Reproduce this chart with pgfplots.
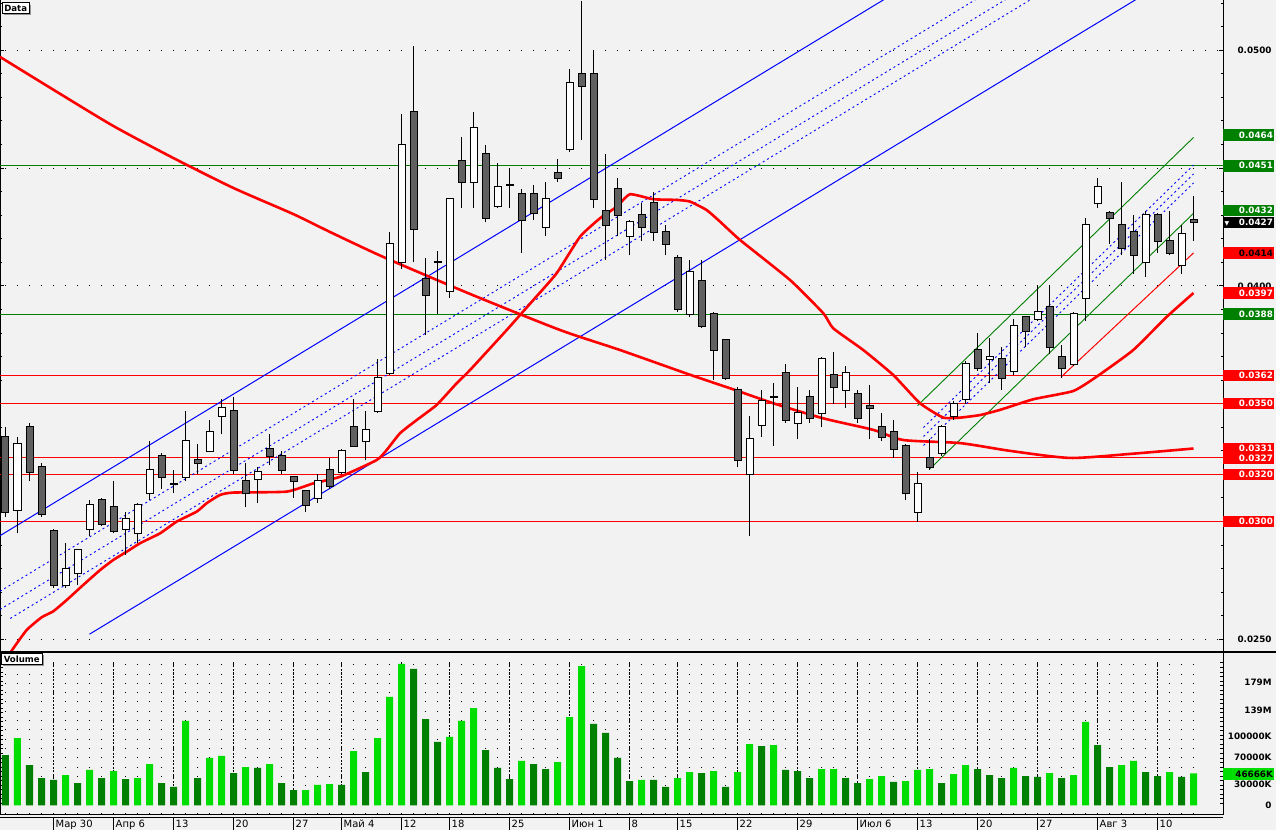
\documentclass[border=0pt]{standalone}
\usepackage{pgfplots}
\pgfplotsset{compat=1.18}
\usepackage{pgfplotstable}
\usepackage{fontspec}
\setmainfont{DejaVu Sans}

\definecolor{bg}{RGB}{242,242,242}
\definecolor{cdark}{RGB}{96,96,96}
\definecolor{dgreen}{RGB}{0,128,0}
\definecolor{lgreen}{RGB}{0,221,0}
\definecolor{shadow}{RGB}{150,150,150}

\newcommand\lblfont{\fontsize{8.8}{9}\selectfont\bfseries}
\tikzset{
  box/.style={anchor=west, inner xsep=1.5pt, inner ysep=0pt, minimum height=11.5pt,
    text width=48.2pt, align=right, font=\lblfont},
  plain/.style={anchor=east, inner sep=0pt, font=\lblfont},
}

% daily bars: index, open, high, low, close, volume (M), volume colour flag
\pgfplotstableread{
x o h l c v g
0 0.0336 0.0340 0.0302 0.0304 73.3 0
1 0.0305 0.0336 0.0295 0.0333 98.0 1
2 0.0340 0.0342 0.0317 0.0321 58.7 0
3 0.0323 0.0325 0.0302 0.0303 39.8 0
4 0.0296 0.0297 0.0272 0.0273 36.9 0
5 0.0273 0.0291 0.0272 0.0280 44.0 1
6 0.0278 0.0288 0.0273 0.0288 32.5 0
7 0.0297 0.0309 0.0294 0.0307 51.5 1
8 0.0309 0.0310 0.0298 0.0299 39.8 0
9 0.0306 0.0317 0.0295 0.0296 50.0 1
10 0.0297 0.0304 0.0286 0.0301 38.3 0
11 0.0295 0.0308 0.0291 0.0307 39.8 1
12 0.0312 0.0334 0.0309 0.0322 60.0 1
13 0.0328 0.0329 0.0314 0.0319 32.5 0
14 0.0316 0.0322 0.0312 0.0316 26.7 0
15 0.0319 0.0347 0.0317 0.0334 123.0 1
16 0.0326 0.0333 0.0320 0.0325 39.8 0
17 0.0330 0.0343 0.0330 0.0338 69.0 1
18 0.0345 0.0352 0.0337 0.0348 71.9 1
19 0.0347 0.0353 0.0320 0.0322 47.0 0
20 0.0317 0.0325 0.0306 0.0312 55.8 1
21 0.0318 0.0323 0.0308 0.0321 54.4 0
22 0.0331 0.0337 0.0324 0.0328 60.0 1
23 0.0328 0.0330 0.0320 0.0322 32.5 0
24 0.0319 0.0319 0.0310 0.0317 22.3 0
25 0.0313 0.0313 0.0304 0.0307 22.3 1
26 0.0310 0.0320 0.0308 0.0317 29.6 1
27 0.0322 0.0327 0.0314 0.0315 31.0 1
28 0.0321 0.0331 0.0320 0.0330 29.6 0
29 0.0340 0.0352 0.0332 0.0332 79.0 1
30 0.0334 0.0347 0.0326 0.0339 48.5 0
31 0.0347 0.0369 0.0346 0.0361 98.0 1
32 0.0363 0.0423 0.0362 0.0418 158.0 1
33 0.0410 0.0473 0.0407 0.0460 206.0 1
34 0.0474 0.0502 0.0410 0.0424 198.7 0
35 0.0403 0.0412 0.0379 0.0396 125.8 0
36 0.0410 0.0415 0.0388 0.0410 92.3 0
37 0.0398 0.0437 0.0395 0.0437 99.6 1
38 0.0453 0.0463 0.0433 0.0444 123.0 1
39 0.0444 0.0474 0.0433 0.0467 141.8 1
40 0.0456 0.0460 0.0427 0.0429 80.6 0
41 0.0434 0.0452 0.0433 0.0442 54.4 0
42 0.0443 0.0450 0.0433 0.0443 38.3 0
43 0.0439 0.0441 0.0414 0.0428 64.6 1
44 0.0439 0.0443 0.0428 0.0431 60.0 0
45 0.0425 0.0444 0.0421 0.0437 52.9 0
46 0.0448 0.0454 0.0444 0.0446 63.1 1
47 0.0458 0.0492 0.0457 0.0486 128.7 1
48 0.0490 0.0521 0.0462 0.0485 203.0 1
49 0.0490 0.0500 0.0433 0.0437 118.6 0
50 0.0432 0.0456 0.0411 0.0426 105.4 0
51 0.0441 0.0446 0.0421 0.0430 69.0 0
52 0.0421 0.0428 0.0413 0.0427 35.4 0
53 0.0430 0.0435 0.0419 0.0425 36.9 1
54 0.0435 0.0440 0.0419 0.0423 36.9 0
55 0.0423 0.0426 0.0413 0.0418 26.7 0
56 0.0412 0.0413 0.0389 0.0390 39.8 1
57 0.0388 0.0411 0.0387 0.0406 48.5 1
58 0.0402 0.0411 0.0382 0.0383 47.0 0
59 0.0388 0.0389 0.0360 0.0373 50.0 1
60 0.0377 0.0377 0.0360 0.0361 26.7 0
61 0.0356 0.0357 0.0323 0.0326 48.5 1
62 0.0320 0.0345 0.0294 0.0335 89.3 1
63 0.0341 0.0356 0.0336 0.0351 86.4 0
64 0.0353 0.0359 0.0332 0.0353 87.9 1
65 0.0363 0.0367 0.0342 0.0343 51.5 0
66 0.0342 0.0357 0.0335 0.0346 50.0 0
67 0.0353 0.0356 0.0342 0.0344 39.8 0
68 0.0346 0.0370 0.0340 0.0369 52.9 1
69 0.0362 0.0372 0.0350 0.0357 52.9 1
70 0.0356 0.0366 0.0348 0.0363 39.8 0
71 0.0354 0.0356 0.0342 0.0344 32.5 0
72 0.0349 0.0358 0.0335 0.0348 38.3 1
73 0.0340 0.0346 0.0334 0.0336 42.7 1
74 0.0338 0.0343 0.0327 0.0331 34.0 0
75 0.0332 0.0333 0.0309 0.0312 35.4 1
76 0.0304 0.0321 0.0300 0.0316 51.5 1
77 0.0327 0.0335 0.0322 0.0323 52.9 1
78 0.0329 0.0341 0.0328 0.0340 32.5 0
79 0.0345 0.0351 0.0343 0.0350 45.6 1
80 0.0352 0.0368 0.0350 0.0367 58.7 1
81 0.0373 0.0380 0.0364 0.0365 52.9 0
82 0.0369 0.0378 0.0359 0.0370 44.0 0
83 0.0369 0.0374 0.0356 0.0361 39.8 0
84 0.0364 0.0386 0.0362 0.0383 54.4 1
85 0.0387 0.0387 0.0374 0.0381 42.7 0
86 0.0386 0.0400 0.0385 0.0389 41.3 0
87 0.0391 0.0400 0.0371 0.0374 47.0 1
88 0.0370 0.0375 0.0361 0.0365 39.8 0
89 0.0367 0.0389 0.0366 0.0388 44.0 1
90 0.0395 0.0429 0.0385 0.0426 121.5 1
91 0.0435 0.0446 0.0433 0.0442 87.9 0
92 0.0431 0.0432 0.0418 0.0429 55.8 0
93 0.0426 0.0444 0.0413 0.0416 58.7 1
94 0.0423 0.0430 0.0405 0.0413 64.6 1
95 0.0410 0.0432 0.0404 0.0430 48.5 0
96 0.0430 0.0431 0.0414 0.0419 42.7 0
97 0.0419 0.0432 0.0413 0.0414 48.5 1
98 0.0409 0.0426 0.0405 0.0422 41.3 0
99 0.0428 0.0438 0.0419 0.0427 46.666 1
}\ohlc

% slow moving average
\pgfplotstableread{
x y
-0.46 0.04972
3.98 0.04833
8.98 0.04679
13.98 0.04543
18.98 0.04416
23.98 0.04305
27.04 0.04229
31.48 0.04123
38.71 0.03966
46.21 0.03813
51.21 0.03728
57.04 0.03623
60.65 0.03561
63.98 0.03502
68.15 0.03438
72.32 0.03389
74.82 0.03346
79.54 0.03333
83.71 0.03300
88.71 0.03270
93.71 0.03287
99 0.03310
}\maslow

% fast moving average
\pgfplotstableread{
x y
0 0.02412
0.65 0.02462
1.77 0.02540
3.02 0.02594
3.98 0.02619
5.10 0.02667
6.48 0.02731
7.88 0.02794
8.98 0.02837
10.10 0.02872
11.21 0.02908
12.88 0.02950
14.27 0.03000
15.93 0.03042
16.77 0.03078
17.88 0.03113
18.98 0.03123
23.43 0.03127
25.65 0.03162
27.88 0.03190
30.93 0.03261
31.77 0.03304
32.88 0.03375
34.27 0.03431
35.93 0.03495
37.60 0.03587
38.71 0.03643
41.77 0.03813
43.98 0.03940
45.93 0.04054
47.88 0.04209
49.54 0.04287
50.93 0.04336
52.04 0.04389
53.98 0.04368
55.93 0.04365
57.04 0.04358
58.43 0.04322
59.54 0.04273
61.21 0.04195
65.38 0.04025
68.15 0.03884
68.98 0.03820
71.48 0.03728
73.98 0.03622
76.21 0.03502
78.15 0.03441
79.54 0.03441
81.21 0.03452
82.88 0.03474
85.65 0.03519
88.98 0.03554
90.93 0.03615
93.98 0.03728
96.77 0.03869
99 0.03970
}\mafast

\newcommand\datelbl[2]{%
  \draw[black, line width=1pt] ([yshift=-3.7pt]axis cs:#1,-12.68) -- ([yshift=-16pt]axis cs:#1,-12.68);
  \node[anchor=base west, inner sep=0pt, font=\fontsize{10}{12}\selectfont] at ([xshift=2pt,yshift=-13.3pt]axis cs:#1,-12.68) {#2};}

\begin{document}
\begin{tikzpicture}
\fill[bg] (0,0) rectangle (1276pt,830pt);
\useasboundingbox (0,0) rectangle (1276pt,830pt);

% ---------------- price panel ----------------
\begin{axis}[
  at={(0pt,178.5pt)}, anchor=south west,
  scale only axis, width=1223pt, height=651.5pt,
  xmin=-0.4583, xmax=101.4583, ymin=0.024485, ymax=0.052135,
  clip mode=individual,
  axis line style={black, line width=1pt},
  xtick=\empty,
  minor xtick={4,9,14,19,24,28,33,37,42,47,52,56,61,66,71,76,81,86,91,96},
  xminorgrids,
  ytick={0.025,0.030,0.035,0.040,0.045,0.050},
  minor ytick={0.025,0.026,...,0.052},
  yticklabels={},
  ymajorgrids,
  major grid style={black, line width=1pt, dash pattern=on 1pt off 11pt, dash phase=7pt},
  minor grid style={black, line width=1pt, dash pattern=on 1pt off 22.56pt, dash phase=11.36pt},
  tick align=inside, major tick length=4pt, minor tick length=2pt,
  tick style={black, line width=1pt},
  xtick style={draw=none},
]
% support / resistance levels
\addplot[dgreen, line width=1pt] coordinates {(-1,0.0451) (102,0.0451)};
\addplot[dgreen, line width=1pt] coordinates {(-1,0.0388) (102,0.0388)};
\addplot[red, line width=1pt] coordinates {(-1,0.0362) (102,0.0362)};
\addplot[red, line width=1pt] coordinates {(-1,0.0350) (102,0.0350)};
\addplot[red, line width=1pt] coordinates {(-1,0.0327) (102,0.0327)};
\addplot[red, line width=1pt] coordinates {(-1,0.0320) (102,0.0320)};
\addplot[red, line width=1pt] coordinates {(-1,0.0300) (102,0.0300)};

% long trend channel
\addplot[blue, line width=1pt] coordinates {(-0.4583,0.029400) (80,0.054252)};
\addplot[blue, line width=1pt] coordinates {(7,0.025219) (100,0.053945)};
\addplot[blue, line width=0.9pt, dash pattern=on 2pt off 3pt] coordinates {(-0.4583,0.027040) (90,0.054981)};
\addplot[blue, line width=0.9pt, dash pattern=on 2pt off 3pt] coordinates {(-0.4583,0.026268) (90,0.054209)};
\addplot[blue, line width=0.9pt, dash pattern=on 2pt off 3pt] coordinates {(0.4,0.025888) (95,0.055108)};

% short trend channel
\addplot[dgreen, line width=0.9pt] coordinates {(76,0.03492) (99,0.04630)};
\addplot[dgreen, line width=0.9pt] coordinates {(77,0.03222) (99,0.04308)};
\addplot[blue, line width=0.9pt, dash pattern=on 2pt off 3pt] coordinates {(76.5,0.03399) (99,0.04513)};
\addplot[blue, line width=0.9pt, dash pattern=on 2pt off 3pt] coordinates {(76.5,0.03361) (99,0.04475)};
\addplot[blue, line width=0.9pt, dash pattern=on 2pt off 3pt] coordinates {(76.5,0.03323) (99,0.04437)};
\addplot[red, line width=1pt] coordinates {(88,0.03615) (99,0.0414)};

% moving averages
\addplot[red, line width=2.6pt, line join=round, smooth, tension=0.4] table[x=x,y=y] {\maslow};
\addplot[red, line width=2.6pt, line join=round, smooth, tension=0.3] table[x=x,y=y] {\mafast};

% candles: wicks, outlines, bodies
\addplot[draw=none, mark=none,
  error bars/.cd, y dir=plus, y explicit, error mark=none,
  error bar style={draw=black, line width=1pt}]
  table[x=x, y=l, y error expr=\thisrow{h}-\thisrow{l}] {\ohlc};
\addplot[draw=none, mark=none,
  error bars/.cd, y dir=plus, y explicit, error mark=none,
  error bar style={draw=black, line width=8pt}]
  table[x=x, y expr={min(\thisrow{o},\thisrow{c})-0.0000424},
        y error expr={abs(\thisrow{o}-\thisrow{c})+0.0000849}] {\ohlc};
\addplot[draw=none, mark=none,
  restrict expr to domain={\thisrow{c}-\thisrow{o}}{0:1},
  error bars/.cd, y dir=plus, y explicit, error mark=none,
  error bar style={draw=white, line width=6pt}]
  table[x=x, y=o, y error expr=\thisrow{c}-\thisrow{o}] {\ohlc};
\addplot[draw=none, mark=none,
  restrict expr to domain={\thisrow{c}-\thisrow{o}}{-1:-0.00001},
  error bars/.cd, y dir=plus, y explicit, error mark=none,
  error bar style={draw=cdark, line width=6pt}]
  table[x=x, y=c, y error expr=\thisrow{o}-\thisrow{c}] {\ohlc};

% price scale labels
\node[plain] at ([xshift=48.7pt]axis cs:101.4583,0.0500) {0.0500};
\node[plain] at ([xshift=48.7pt]axis cs:101.4583,0.0400) {0.0400};
\node[plain] at ([xshift=48.7pt]axis cs:101.4583,0.0250) {0.0250};
\node[box, fill=dgreen, text=white] at (axis cs:101.4583,0.0464) {0.0464};
\node[box, fill=dgreen, text=white] at (axis cs:101.4583,0.0451) {0.0451};
\node[box, fill=dgreen, text=white] at (axis cs:101.4583,0.0432) {0.0432};
\node[box, fill=black, text=white] at (axis cs:101.4583,0.0427) {{\fontsize{6}{6}\selectfont ▼}\hfill 0.0427};
\node[box, fill=red, text=black] at (axis cs:101.4583,0.0414) {0.0414};
\node[box, fill=red, text=white] at (axis cs:101.4583,0.0397) {0.0397};
\node[box, fill=dgreen, text=white] at (axis cs:101.4583,0.0388) {0.0388};
\node[box, fill=red, text=white] at (axis cs:101.4583,0.0362) {0.0362};
\node[box, fill=red, text=white] at (axis cs:101.4583,0.0350) {0.0350};
\node[box, fill=red, text=white] at (axis cs:101.4583,0.0331) {0.0331};
\node[box, fill=red, text=white] at (axis cs:101.4583,0.0327) {0.0327};
\node[box, fill=red, text=white] at (axis cs:101.4583,0.0320) {0.0320};
\node[box, fill=red, text=white] at (axis cs:101.4583,0.0300) {0.0300};

% panel caption
\node[anchor=north west, fill=shadow, minimum width=26.6pt, minimum height=10.6pt, inner sep=0pt]
  at ([xshift=4pt,yshift=-4.5pt]rel axis cs:0,1) {};
\node[anchor=north west, fill=white, draw=black, line width=0.8pt, minimum width=26.6pt, minimum height=10.6pt, inner sep=0pt, font=\fontsize{8.6}{9}\selectfont\bfseries]
  at ([xshift=2pt,yshift=-2.5pt]rel axis cs:0,1) {Data};
\end{axis}

% ---------------- volume panel ----------------
\begin{axis}[
  at={(0pt,16pt)}, anchor=south west,
  scale only axis, width=1223pt, height=162.5pt,
  xmin=-0.4583, xmax=101.4583, ymin=-12.68, ymax=224.2,
  clip mode=individual,
  axis line style={black, line width=1pt},
  xtick={4,9,14,19,24,28,33,37,42,47,52,56,61,66,71,76,81,86,91,96},
  xticklabels={},
  minor xtick={0,...,99},
  xmajorgrids, xminorgrids,
  major grid style={black, line width=1pt, dash pattern=on 2pt off 1.5pt},
  minor grid style={black, line width=1pt, dash pattern=on 1pt off 8.3pt},
  ytick={2.9,9.5,...,208}, yticklabels={},
  tick align=inside, major tick length=3pt,
  tick style={black, line width=1pt},
  xtick style={draw=none},
]
\fill[bg] (axis cs:-0.37,-11.1) rectangle (axis cs:101.37,0);
\fill[bg] (axis cs:-0.37,208.5) rectangle (axis cs:101.37,222.7);

\addplot[ybar, bar width=7pt, bar shift=0pt, fill=dgreen, draw=none,
  restrict expr to domain={\thisrow{g}}{-0.5:0.5}] table[x=x, y=v] {\ohlc};
\addplot[ybar, bar width=7pt, bar shift=0pt, fill=lgreen, draw=none,
  restrict expr to domain={\thisrow{g}}{0.5:1.5}] table[x=x, y=v] {\ohlc};

\node[plain] at ([xshift=48.7pt]axis cs:101.4583,179) {179M};
\node[plain] at ([xshift=48.7pt]axis cs:101.4583,139) {139M};
\node[plain] at ([xshift=48.7pt]axis cs:101.4583,100) {100000K};
\node[plain] at ([xshift=48.7pt]axis cs:101.4583,70) {70000K};
\node[plain] at ([xshift=48.7pt]axis cs:101.4583,30) {30000K};
\node[plain] at ([xshift=48.7pt]axis cs:101.4583,0) {0};
\node[box, fill=lgreen, text=black] at (axis cs:101.4583,45.6) {46666K};

\node[anchor=north west, fill=shadow, minimum width=40.7pt, minimum height=10.7pt, inner sep=0pt]
  at ([xshift=3pt,yshift=-3.8pt]rel axis cs:0,1) {};
\node[anchor=north west, fill=white, draw=black, line width=0.8pt, minimum width=40.7pt, minimum height=10.7pt, inner sep=0pt, font=\fontsize{8.6}{9}\selectfont\bfseries]
  at ([xshift=1pt,yshift=-1.8pt]rel axis cs:0,1) {Volume};

\draw[black, line width=1pt] ([yshift=-3.5pt]axis cs:-0.4583,-12.68) -- ([yshift=-3.5pt]axis cs:101.4583,-12.68);
\datelbl{4}{Мар 30}
\datelbl{9}{Апр 6}
\datelbl{14}{13}
\datelbl{19}{20}
\datelbl{24}{27}
\datelbl{28}{Май 4}
\datelbl{33}{12}
\datelbl{37}{18}
\datelbl{42}{25}
\datelbl{47}{Июн 1}
\datelbl{52}{8}
\datelbl{56}{15}
\datelbl{61}{22}
\datelbl{66}{29}
\datelbl{71}{Июл 6}
\datelbl{76}{13}
\datelbl{81}{20}
\datelbl{86}{27}
\datelbl{91}{Авг 3}
\datelbl{96}{10}
\end{axis}

\draw[black, line width=2pt] (0,178.5pt) -- (1276pt,178.5pt);
\end{tikzpicture}
\end{document}
